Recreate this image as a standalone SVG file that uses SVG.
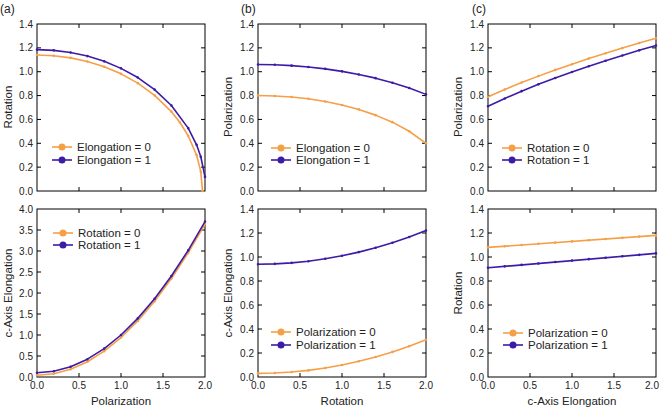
<svg xmlns="http://www.w3.org/2000/svg" xmlns:xlink="http://www.w3.org/1999/xlink" width="663" height="414" viewBox="0 0 663 414">
<style>
text{font-family:"Liberation Sans",Arial,sans-serif;fill:#222}
.t{font-size:10px}
.ty{font-size:10px;text-anchor:end}
.tx{font-size:10px;text-anchor:middle}
.lab{font-size:11.5px;text-anchor:middle}
.pl{font-size:12px}
.leg{font-size:11.5px}
.fr{fill:none;stroke:#000;stroke-width:1}
.o{fill:none;stroke:#F59F47;stroke-width:1.6;vector-effect:non-scaling-stroke;stroke-linejoin:round}
.p{fill:none;stroke:#3C1BA6;stroke-width:1.6;vector-effect:non-scaling-stroke;stroke-linejoin:round}
.od{fill:none;stroke:#F59F47;stroke-width:2.6;stroke-linecap:round;vector-effect:non-scaling-stroke}
.pd{fill:none;stroke:#3C1BA6;stroke-width:2.6;stroke-linecap:round;vector-effect:non-scaling-stroke}
</style>
<defs>
<path id="tk7" fill="none" stroke="#000" d="M42 0v4M84 0v4M126 0v4M42 167v-4M84 167v-4M126 167v-4M0 23.86h4M0 47.71h4M0 71.57h4M0 95.43h4M0 119.29h4M0 143.14h4M168 23.86h-4M168 47.71h-4M168 71.57h-4M168 95.43h-4M168 119.29h-4M168 143.14h-4"/>
<path id="tk7b" fill="none" stroke="#000" d="M42 0v4M84 0v4M126 0v4M42 168v-4M84 168v-4M126 168v-4M0 24h4M0 48h4M0 72h4M0 96h4M0 120h4M0 144h4M168 24h-4M168 48h-4M168 72h-4M168 96h-4M168 120h-4M168 144h-4"/>
<path id="tk8" fill="none" stroke="#000" d="M42 0v4M84 0v4M126 0v4M42 168v-4M84 168v-4M126 168v-4M0 21h4M0 42h4M0 63h4M0 84h4M0 105h4M0 126h4M0 147h4M168 21h-4M168 42h-4M168 63h-4M168 84h-4M168 105h-4M168 126h-4M168 147h-4"/>
</defs>

<text class="pl" x="0" y="13">(a)</text>
<text class="pl" x="241" y="13">(b)</text>
<text class="pl" x="472" y="13">(c)</text>

<!-- Panel a top -->
<g id="panel-a-top">
<rect class="fr" x="37" y="24" width="168" height="167"/>
<use xlink:href="#tk7" x="37" y="24"/>
<g class="ty"><text x="33" y="194.5">0.0</text><text x="33" y="170.6">0.2</text><text x="33" y="146.8">0.4</text><text x="33" y="122.9">0.6</text><text x="33" y="99.1">0.8</text><text x="33" y="75.2">1.0</text><text x="33" y="51.4">1.2</text><text x="33" y="27.5">1.4</text></g>
<text class="lab" transform="translate(12,107) rotate(-90)">Rotation</text>
<g transform="translate(37,191) scale(84,-119.29)">
<polyline class="o" points="0,1.14 0.2,1.134 0.4,1.116 0.6,1.086 0.8,1.042 1,0.982 1.2,0.904 1.4,0.802 1.6,0.665 1.7,0.576 1.8,0.463 1.9,0.301 1.95,0.162 1.97,0"/>
<path class="od" d="M0 1.14h0M0.2 1.134h0M0.4 1.116h0M0.6 1.086h0M0.8 1.042h0M1 0.982h0M1.2 0.904h0M1.4 0.802h0M1.6 0.665h0M1.7 0.576h0M1.8 0.463h0M1.9 0.301h0M1.95 0.162h0M1.97 0h0"/>
<polyline class="p" points="0,1.185 0.2,1.179 0.4,1.161 0.6,1.131 0.8,1.087 1,1.028 1.2,0.951 1.4,0.85 1.6,0.717 1.8,0.527 1.9,0.387 1.95,0.287 2,0.118"/>
<path class="pd" d="M0 1.185h0M0.2 1.179h0M0.4 1.161h0M0.6 1.131h0M0.8 1.087h0M1 1.028h0M1.2 0.951h0M1.4 0.85h0M1.6 0.717h0M1.8 0.527h0M1.9 0.387h0M1.95 0.287h0M2 0.118h0"/>
</g>
<g id="legend-a-top">
<line x1="52" y1="147" x2="72" y2="147" stroke="#F59F47" stroke-width="1.6"/><circle cx="62" cy="147" r="3.5" fill="#F59F47"/>
<line x1="52" y1="160" x2="72" y2="160" stroke="#3C1BA6" stroke-width="1.6"/><circle cx="62" cy="160" r="3.5" fill="#3C1BA6"/>
<text class="leg" x="77" y="151">Elongation = 0</text><text class="leg" x="77" y="164">Elongation = 1</text>
</g>
</g>

<!-- Panel a bottom -->
<g id="panel-a-bottom">
<rect class="fr" x="37" y="209" width="168" height="168"/>
<use xlink:href="#tk8" x="37" y="209"/>
<g class="ty"><text x="33" y="380.5">0.0</text><text x="33" y="359.5">0.5</text><text x="33" y="338.5">1.0</text><text x="33" y="317.5">1.5</text><text x="33" y="296.5">2.0</text><text x="33" y="275.5">2.5</text><text x="33" y="254.5">3.0</text><text x="33" y="233.5">3.5</text><text x="33" y="212.5">4.0</text></g>
<g class="tx"><text x="37" y="389">0.0</text><text x="79" y="389">0.5</text><text x="121" y="389">1.0</text><text x="163" y="389">1.5</text><text x="205" y="389">2.0</text></g>
<text class="lab" x="121" y="405">Polarization</text>
<text class="lab" transform="translate(12,293) rotate(-90)">c-Axis Elongation</text>
<g transform="translate(37,377) scale(84,-42)">
<polyline class="o" points="0,0.04 0.2,0.076 0.4,0.184 0.6,0.364 0.8,0.616 1,0.94 1.2,1.336 1.4,1.804 1.6,2.344 1.8,2.956 2,3.64"/>
<path class="od" d="M0 0.04h0M0.2 0.076h0M0.4 0.184h0M0.6 0.364h0M0.8 0.616h0M1 0.94h0M1.2 1.336h0M1.4 1.804h0M1.6 2.344h0M1.8 2.956h0M2 3.64h0"/>
<polyline class="p" points="0,0.1 0.2,0.136 0.4,0.244 0.6,0.424 0.8,0.676 1,1 1.2,1.396 1.4,1.864 1.6,2.404 1.8,3.016 2,3.7"/>
<path class="pd" d="M0 0.1h0M0.2 0.136h0M0.4 0.244h0M0.6 0.424h0M0.8 0.676h0M1 1h0M1.2 1.396h0M1.4 1.864h0M1.6 2.404h0M1.8 3.016h0M2 3.7h0"/>
</g>
<g id="legend-a-bottom">
<line x1="53" y1="233" x2="73" y2="233" stroke="#F59F47" stroke-width="1.6"/><circle cx="63" cy="233" r="3.5" fill="#F59F47"/>
<line x1="53" y1="245" x2="73" y2="245" stroke="#3C1BA6" stroke-width="1.6"/><circle cx="63" cy="245" r="3.5" fill="#3C1BA6"/>
<text class="leg" x="78" y="237">Rotation = 0</text><text class="leg" x="78" y="249">Rotation = 1</text>
</g>
</g>

<!-- Panel b top -->
<g id="panel-b-top">
<rect class="fr" x="258" y="24" width="168" height="167"/>
<use xlink:href="#tk7" x="258" y="24"/>
<g class="ty"><text x="254" y="194.5">0.0</text><text x="254" y="170.6">0.2</text><text x="254" y="146.8">0.4</text><text x="254" y="122.9">0.6</text><text x="254" y="99.1">0.8</text><text x="254" y="75.2">1.0</text><text x="254" y="51.4">1.2</text><text x="254" y="27.5">1.4</text></g>
<text class="lab" transform="translate(232,107) rotate(-90)">Polarization</text>
<g transform="translate(258,191) scale(84,-119.29)">
<polyline class="o" points="0,0.8 0.2,0.797 0.4,0.788 0.6,0.773 0.8,0.75 1,0.721 1.2,0.684 1.4,0.636 1.6,0.577 1.8,0.501 2,0.4"/>
<path class="od" d="M0 0.8h0M0.2 0.797h0M0.4 0.788h0M0.6 0.773h0M0.8 0.75h0M1 0.721h0M1.2 0.684h0M1.4 0.636h0M1.6 0.577h0M1.8 0.501h0M2 0.4h0"/>
<polyline class="p" points="0,1.06 0.2,1.058 0.4,1.051 0.6,1.04 0.8,1.024 1,1.003 1.2,0.977 1.4,0.946 1.6,0.908 1.8,0.863 2,0.81"/>
<path class="pd" d="M0 1.06h0M0.2 1.058h0M0.4 1.051h0M0.6 1.04h0M0.8 1.024h0M1 1.003h0M1.2 0.977h0M1.4 0.946h0M1.6 0.908h0M1.8 0.863h0M2 0.81h0"/>
</g>
<g id="legend-b-top">
<line x1="271" y1="148" x2="291" y2="148" stroke="#F59F47" stroke-width="1.6"/><circle cx="281" cy="148" r="3.5" fill="#F59F47"/>
<line x1="271" y1="160" x2="291" y2="160" stroke="#3C1BA6" stroke-width="1.6"/><circle cx="281" cy="160" r="3.5" fill="#3C1BA6"/>
<text class="leg" x="296" y="152">Elongation = 0</text><text class="leg" x="296" y="164">Elongation = 1</text>
</g>
</g>

<!-- Panel b bottom -->
<g id="panel-b-bottom">
<rect class="fr" x="258" y="209" width="168" height="168"/>
<use xlink:href="#tk7b" x="258" y="209"/>
<g class="ty"><text x="254" y="380.5">0.0</text><text x="254" y="356.5">0.2</text><text x="254" y="332.5">0.4</text><text x="254" y="308.5">0.6</text><text x="254" y="284.5">0.8</text><text x="254" y="260.5">1.0</text><text x="254" y="236.5">1.2</text><text x="254" y="212.5">1.4</text></g>
<g class="tx"><text x="258" y="389">0.0</text><text x="300" y="389">0.5</text><text x="342" y="389">1.0</text><text x="384" y="389">1.5</text><text x="426" y="389">2.0</text></g>
<text class="lab" x="342" y="405">Rotation</text>
<text class="lab" transform="translate(232,293) rotate(-90)">c-Axis Elongation</text>
<g transform="translate(258,377) scale(84,-120)">
<polyline class="o" points="0,0.03 0.2,0.0328 0.4,0.0412 0.6,0.0552 0.8,0.0748 1,0.1 1.2,0.1308 1.4,0.1672 1.6,0.2092 1.8,0.2568 2,0.31"/>
<path class="od" d="M0 0.03h0M0.2 0.0328h0M0.4 0.0412h0M0.6 0.0552h0M0.8 0.0748h0M1 0.1h0M1.2 0.1308h0M1.4 0.1672h0M1.6 0.2092h0M1.8 0.2568h0M2 0.31h0"/>
<polyline class="p" points="0,0.94 0.2,0.9428 0.4,0.9512 0.6,0.9652 0.8,0.9848 1,1.01 1.2,1.0408 1.4,1.0772 1.6,1.1192 1.8,1.1668 2,1.22"/>
<path class="pd" d="M0 0.94h0M0.2 0.9428h0M0.4 0.9512h0M0.6 0.9652h0M0.8 0.9848h0M1 1.01h0M1.2 1.0408h0M1.4 1.0772h0M1.6 1.1192h0M1.8 1.1668h0M2 1.22h0"/>
</g>
<g id="legend-b-bottom">
<line x1="271" y1="332" x2="291" y2="332" stroke="#F59F47" stroke-width="1.6"/><circle cx="281" cy="332" r="3.5" fill="#F59F47"/>
<line x1="271" y1="345" x2="291" y2="345" stroke="#3C1BA6" stroke-width="1.6"/><circle cx="281" cy="345" r="3.5" fill="#3C1BA6"/>
<text class="leg" x="296" y="336">Polarization = 0</text><text class="leg" x="296" y="349">Polarization = 1</text>
</g>
</g>

<!-- Panel c top -->
<g id="panel-c-top">
<rect class="fr" x="488" y="24" width="168" height="167"/>
<use xlink:href="#tk7" x="488" y="24"/>
<g class="ty"><text x="484" y="194.5">0.0</text><text x="484" y="170.6">0.2</text><text x="484" y="146.8">0.4</text><text x="484" y="122.9">0.6</text><text x="484" y="99.1">0.8</text><text x="484" y="75.2">1.0</text><text x="484" y="51.4">1.2</text><text x="484" y="27.5">1.4</text></g>
<text class="lab" transform="translate(462,107) rotate(-90)">Polarization</text>
<g transform="translate(488,191) scale(84,-119.29)">
<polyline class="o" points="0,0.79 0.2,0.851 0.4,0.909 0.6,0.963 0.8,1.015 1,1.063 1.2,1.11 1.4,1.155 1.6,1.198 1.8,1.24 2,1.28"/>
<path class="od" d="M0 0.79h0M0.2 0.851h0M0.4 0.909h0M0.6 0.963h0M0.8 1.015h0M1 1.063h0M1.2 1.11h0M1.4 1.155h0M1.6 1.198h0M1.8 1.24h0M2 1.28h0"/>
<polyline class="p" points="0,0.71 0.2,0.776 0.4,0.837 0.6,0.894 0.8,0.947 1,0.998 1.2,1.046 1.4,1.092 1.6,1.136 1.8,1.179 2,1.22"/>
<path class="pd" d="M0 0.71h0M0.2 0.776h0M0.4 0.837h0M0.6 0.894h0M0.8 0.947h0M1 0.998h0M1.2 1.046h0M1.4 1.092h0M1.6 1.136h0M1.8 1.179h0M2 1.22h0"/>
</g>
<g id="legend-c-top">
<line x1="502" y1="148" x2="522" y2="148" stroke="#F59F47" stroke-width="1.6"/><circle cx="512" cy="148" r="3.5" fill="#F59F47"/>
<line x1="502" y1="160" x2="522" y2="160" stroke="#3C1BA6" stroke-width="1.6"/><circle cx="512" cy="160" r="3.5" fill="#3C1BA6"/>
<text class="leg" x="527" y="152">Rotation = 0</text><text class="leg" x="527" y="164">Rotation = 1</text>
</g>
</g>

<!-- Panel c bottom -->
<g id="panel-c-bottom">
<rect class="fr" x="488" y="209" width="168" height="168"/>
<use xlink:href="#tk7b" x="488" y="209"/>
<g class="ty"><text x="484" y="380.5">0.0</text><text x="484" y="356.5">0.2</text><text x="484" y="332.5">0.4</text><text x="484" y="308.5">0.6</text><text x="484" y="284.5">0.8</text><text x="484" y="260.5">1.0</text><text x="484" y="236.5">1.2</text><text x="484" y="212.5">1.4</text></g>
<g class="tx"><text x="488" y="389">0.0</text><text x="530" y="389">0.5</text><text x="572" y="389">1.0</text><text x="614" y="389">1.5</text><text x="652" y="389">2.0</text></g>
<text class="lab" x="572" y="405">c-Axis Elongation</text>
<text class="lab" transform="translate(462,293) rotate(-90)">Rotation</text>
<g transform="translate(488,377) scale(84,-120)">
<polyline class="o" points="0,1.08 2,1.18"/>
<path class="od" d="M0 1.08h0M0.2 1.09h0M0.4 1.1h0M0.6 1.11h0M0.8 1.12h0M1 1.13h0M1.2 1.14h0M1.4 1.15h0M1.6 1.16h0M1.8 1.17h0M2 1.18h0"/>
<polyline class="p" points="0,0.91 2,1.03"/>
<path class="pd" d="M0 0.91h0M0.2 0.922h0M0.4 0.934h0M0.6 0.946h0M0.8 0.958h0M1 0.97h0M1.2 0.982h0M1.4 0.994h0M1.6 1.006h0M1.8 1.018h0M2 1.03h0"/>
</g>
<g id="legend-c-bottom">
<line x1="503" y1="333" x2="523" y2="333" stroke="#F59F47" stroke-width="1.6"/><circle cx="513" cy="333" r="3.5" fill="#F59F47"/>
<line x1="503" y1="345" x2="523" y2="345" stroke="#3C1BA6" stroke-width="1.6"/><circle cx="513" cy="345" r="3.5" fill="#3C1BA6"/>
<text class="leg" x="528" y="337">Polarization = 0</text><text class="leg" x="528" y="349">Polarization = 1</text>
</g>
</g>
</svg>
